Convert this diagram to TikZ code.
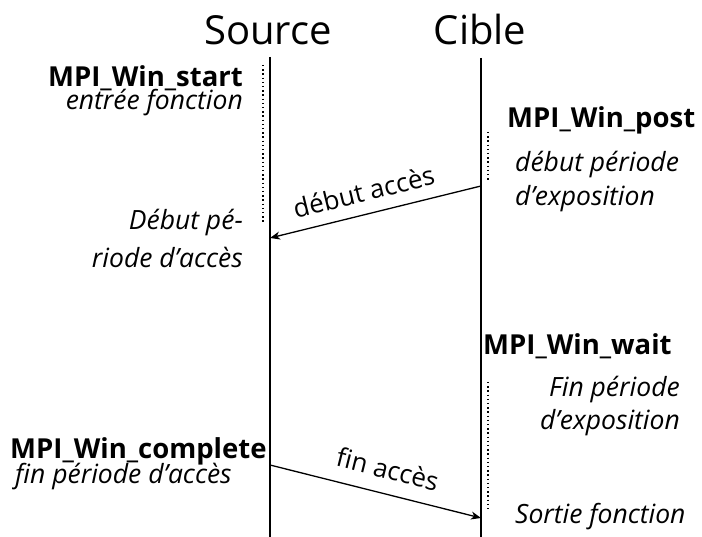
\documentclass[tikz,border=0pt]{standalone}
\usepackage{fontspec}
\setmainfont{Open Sans}
\usetikzlibrary{arrows.meta}
\begin{document}
\begin{tikzpicture}[x=1pt,y=-1pt,
  lifeline/.style={line width=1.7pt},
  waitline/.style={line width=1.4pt, dash pattern=on 1.4pt off 2.8pt},
  msg/.style={line width=1.3pt, -{Stealth[length=10pt,width=8pt,inset=3pt]}},
  head/.style={font=\fontsize{40}{46}\selectfont, inner sep=0pt, anchor=base},
  call/.style={font=\fontsize{27.5}{32}\selectfont\bfseries, inner sep=0pt},
  note/.style={font=\fontsize{26.5}{31}\selectfont\itshape, inner sep=0pt},
  lbl/.style={font=\fontsize{26}{30}\selectfont, inner sep=0pt}]
\useasboundingbox (0,0) rectangle (702,537);

% process headers
\node[head] (src) at (268,45) {Source};
\node[head] (tgt) at (480,45) {Cible};

% lifelines
\coordinate (srcTop) at (270,57);
\coordinate (srcBot) at (270,537);
\coordinate (tgtTop) at (481,58);
\coordinate (tgtBot) at (481,537);
\draw[lifeline] (srcTop) -- (srcBot);
\draw[lifeline] (tgtTop) -- (tgtBot);

% blocking periods
\coordinate (w1a) at (263,65);  \coordinate (w1b) at (263,223);
\coordinate (w2a) at (488,132); \coordinate (w2b) at (488,180);
\coordinate (w3a) at (488,382); \coordinate (w3b) at (488,511);
\draw[waitline] (w1a) -- (w1b);
\draw[waitline] (w2a) -- (w2b);
\draw[waitline] (w3a) -- (w3b);

% messages
\coordinate (postOut) at (481,186);
\coordinate (startIn) at (270,238);
\coordinate (compOut) at (270,465);
\coordinate (waitIn)  at (481,518);
\draw[msg] (postOut) -- node[lbl, sloped, above=12pt, pos=0.53] (m1) {début accès} (startIn);
\draw[msg] (compOut) -- node[lbl, sloped, above=14pt, pos=0.53] (m2) {fin accès} (waitIn);

% source side annotations
\node[call, anchor=base east] (start) at (243,87) {MPI\_Win\_start};
\node[note, anchor=base east] (startN) at (243,110) {entrée fonction};
\node[note, anchor=base east] (accA) at (243,230) {Début pé-};
\node[note, anchor=base east] (accB) at (243,268) {riode d’accès};
\node[call, anchor=base west] (comp) at (10,458) {MPI\_Win\_complete};
\node[note, anchor=base west] (compN) at (15,483) {fin période d’accès};

% target side annotations
\node[call, anchor=base west] (post) at (507,128) {MPI\_Win\_post};
\node[note, anchor=base west] (expA) at (515,172) {début période};
\node[note, anchor=base west] (expB) at (515,206) {d’exposition};
\node[call, anchor=base west] (wait) at (483,355) {MPI\_Win\_wait};
\node[note, anchor=base east] (finA) at (680,397) {Fin période};
\node[note, anchor=base east] (finB) at (680,429) {d’exposition};
\node[note, anchor=base west] (exit) at (515,523) {Sortie fonction};
\end{tikzpicture}
\end{document}
